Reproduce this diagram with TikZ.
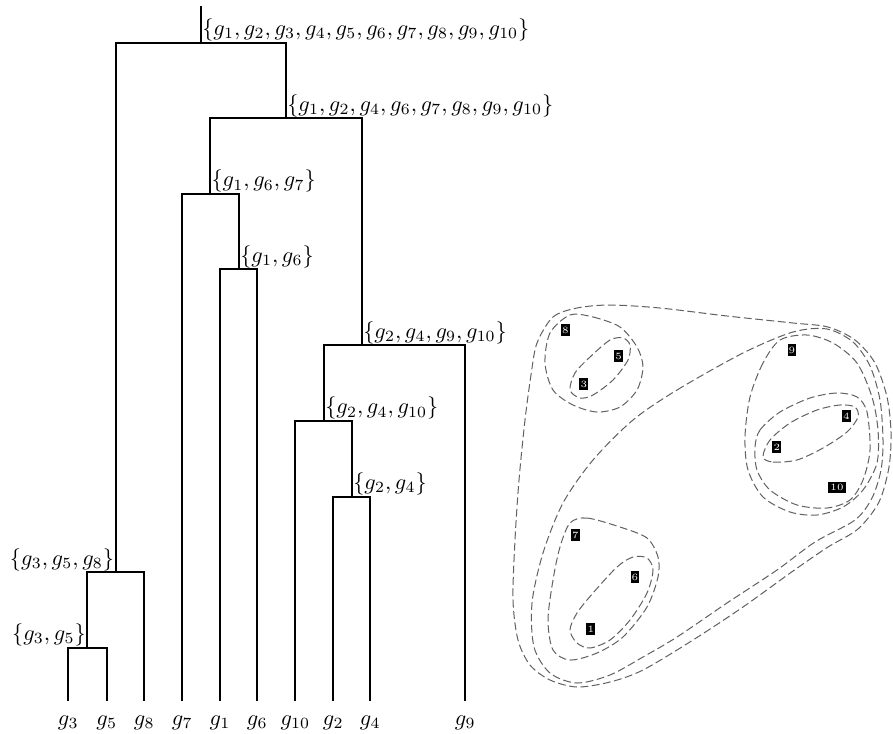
\documentclass[tikz,border=0pt]{standalone}
\begin{document}
\begin{tikzpicture}[x=0.448pt,y=-0.448pt,
  den/.style={line width=0.85pt},
  lab/.style={inner sep=0.5pt},
  leaflab/.style={anchor=base,inner sep=0pt},
  hull/.style={draw=black!62,line width=0.45pt,dash pattern=on 3.5pt off 1.6pt},
  digit/.style={fill=black,text=white,inner sep=0pt,minimum width=4pt,minimum height=5.3pt,font=\fontsize{4.3}{4.3}\selectfont}]
\useasboundingbox (0,0) rectangle (893,733);
% leaf ends
\coordinate (L3) at (68.3,701);
\coordinate (L5) at (106.7,701);
\coordinate (L8) at (144.3,701);
\coordinate (L7) at (182.3,701);
\coordinate (L1) at (220,701);
\coordinate (L6) at (257.3,701);
\coordinate (L10) at (295.3,701);
\coordinate (L2) at (333.3,701);
\coordinate (L4) at (370.3,701);
\coordinate (L9) at (465.3,701);
% junctions
\coordinate (c35) at (87.3,647.7);
\coordinate (c358) at (115.7,572.3);
\coordinate (c16) at (238.7,269.3);
\coordinate (c167) at (210,194);
\coordinate (c24) at (351.7,496.7);
\coordinate (c2410) at (323.7,421);
\coordinate (c24910) at (361.7,345.3);
\coordinate (c8) at (285.7,118.3);
\coordinate (root) at (200.7,42.7);
\coordinate (top) at (200.7,5.7);
% dendrogram
\draw[den] (L3) |- (c35) -| (L5);
\draw[den] (c35) |- (c358) -| (L8);
\draw[den] (L1) |- (c16) -| (L6);
\draw[den] (L7) |- (c167) -| (c16);
\draw[den] (L2) |- (c24) -| (L4);
\draw[den] (L10) |- (c2410) -| (c24);
\draw[den] (c2410) |- (c24910) -| (L9);
\draw[den] (c167) |- (c8) -| (c24910);
\draw[den] (c358) |- (root) -| (c8);
\draw[den] (root) -- (top);
% junction labels
\node[lab,anchor=south west] (t0) at (root) {$\{g_1,g_2,g_3,g_4,g_5,g_6,g_7,g_8,g_9,g_{10}\}$};
\node[lab,anchor=south west] (t1) at (c8) {$\{g_1,g_2,g_4,g_6,g_7,g_8,g_9,g_{10}\}$};
\node[lab,anchor=south west] (t2) at (c167) {$\{g_1,g_6,g_7\}$};
\node[lab,anchor=south west] (t3) at (c16) {$\{g_1,g_6\}$};
\node[lab,anchor=south west] (t4) at (c24910) {$\{g_2,g_4,g_9,g_{10}\}$};
\node[lab,anchor=south west] (t5) at (c2410) {$\{g_2,g_4,g_{10}\}$};
\node[lab,anchor=south west] (t6) at (c24) {$\{g_2,g_4\}$};
\node[lab,anchor=south east] (t7) at (c358) {$\{g_3,g_5,g_8\}$};
\node[lab,anchor=south east] (t8) at (c35) {$\{g_3,g_5\}$};
% leaf labels
\node[leaflab] (g3) at (68.3,725) {$g_3$};
\node[leaflab] (g5) at (106.7,725) {$g_5$};
\node[leaflab] (g8) at (144.3,725) {$g_8$};
\node[leaflab] (g7) at (182.3,725) {$g_7$};
\node[leaflab] (g1) at (220,725) {$g_1$};
\node[leaflab] (g6) at (257.3,725) {$g_6$};
\node[leaflab] (g10) at (295.3,725) {$g_{10}$};
\node[leaflab] (g2) at (333.3,725) {$g_2$};
\node[leaflab] (g4) at (370.3,725) {$g_4$};
\node[leaflab] (g9) at (465.3,725) {$g_9$};
% hulls
\draw[hull] plot[smooth cycle] coordinates {(537,343) (553,317) (577,308) (610,305) (660,308) (727,316) (793,323) (828,327) (855,340) (875,363) (887,397) (891,432) (889,467) (879,502) (858,529) (828,547) (793,571) (743,607) (693,640) (643,670) (610,682) (577,687) (550,680) (530,665) (518,640) (513,600) (515,540) (519,480) (525,420) (531,375)};
\draw[hull] plot[smooth cycle] coordinates {(633,420) (677,390) (743,353) (793,332) (827,329) (853,342) (870,366) (880,400) (883,440) (881,470) (872,498) (855,520) (815,542) (777,570) (727,603) (677,637) (643,657) (610,675) (577,683) (550,673) (534,647) (532,603) (543,553) (563,503) (593,460)};
\draw[hull] plot[smooth cycle] coordinates {(780,340) (763,363) (750,397) (745,437) (748,470) (763,497) (790,512) (817,515) (843,507) (863,490) (877,463) (878,430) (872,397) (857,363) (833,343) (807,335)};
\draw[hull] plot[smooth cycle] coordinates {(755,447) (760,430) (780,412) (810,398) (837,393) (857,397) (867,412) (870,450) (863,480) (850,500) (827,508) (797,505) (770,490) (757,470)};
\draw[hull] plot[smooth cycle] coordinates {(763,457) (773,462) (797,460) (823,448) (847,432) (858,417) (855,407) (840,405) (817,410) (790,423) (770,440)};
\draw[hull] plot[smooth cycle] coordinates {(570,315) (593,317) (620,327) (637,347) (643,367) (637,390) (620,407) (597,412) (573,405) (553,390) (545,363) (550,333)};
\draw[hull] plot[smooth cycle] coordinates {(570,390) (580,398) (593,395) (613,380) (628,360) (630,345) (623,338) (610,340) (590,357) (575,373)};
\draw[hull] plot[smooth cycle] coordinates {(570,523) (587,518) (620,527) (647,538) (658,557) (658,577) (647,607) (623,637) (597,653) (570,660) (553,650) (548,620) (553,580) (560,547)};
\draw[hull] plot[smooth cycle] coordinates {(570,630) (577,643) (590,648) (610,640) (630,620) (647,593) (653,570) (647,558) (633,557) (617,567) (593,593) (577,613)};
% digit images
\node[digit] (d8) at (565.3,330) {8};
\node[digit] (d5) at (618.7,356) {5};
\node[digit] (d3) at (583.8,384) {3};
\node[digit] (d9) at (792,350) {9};
\node[digit] (d4) at (846.3,416.3) {4};
\node[digit] (d2) at (776.8,447) {2};
\node[digit,minimum width=8.3pt] (d10) at (837,487.5) {10};
\node[digit] (d7) at (575.3,535) {7};
\node[digit] (d6) at (635,577) {6};
\node[digit] (d1) at (590.8,629) {1};
\end{tikzpicture}
\end{document}
